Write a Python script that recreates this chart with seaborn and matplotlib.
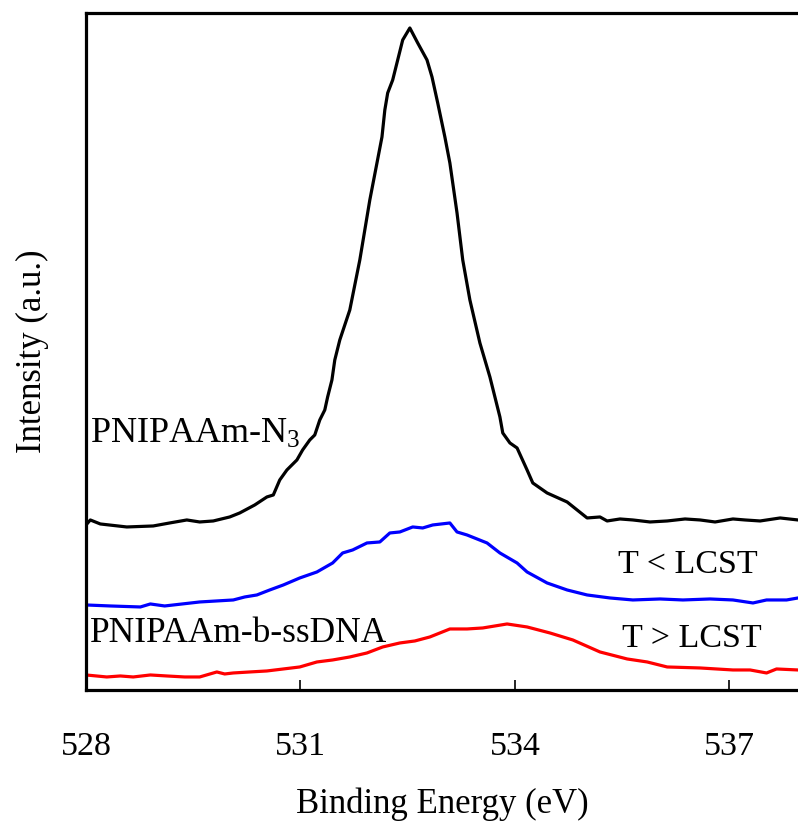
import pandas as pd
import matplotlib
matplotlib.use("Agg")
import matplotlib.pyplot as plt
import seaborn as sns

# XPS O1s spectra, intensity in arbitrary units (curves offset vertically)
x_n3 = [528.00, 528.06, 528.20, 528.57, 528.94, 529.17, 529.41, 529.59, 529.78, 530.01,
        530.15, 530.36, 530.53, 530.62, 530.71, 530.81, 530.95, 531.03, 531.13, 531.20,
        531.27, 531.34, 531.38, 531.44, 531.48, 531.55, 531.69, 531.83, 531.97, 532.07,
        532.14, 532.18, 532.22, 532.29, 532.36, 532.43, 532.53, 532.64, 532.77, 532.84,
        532.92, 533.02, 533.09, 533.19, 533.27, 533.37, 533.51, 533.65, 533.79, 533.83,
        533.93, 534.03, 534.17, 534.25, 534.45, 534.73, 534.87, 535.01, 535.19, 535.29,
        535.47, 535.65, 535.89, 536.13, 536.38, 536.59, 536.80, 537.05, 537.22, 537.43,
        537.71, 537.96]
y_n3 = [165, 170, 166, 163, 164, 167, 170, 168, 169, 173,
        177, 185, 193, 195, 210, 220, 230, 240, 250, 255,
        270, 280, 293, 310, 330, 350, 380, 430, 490, 527,
        553, 580, 597, 610, 630, 650, 662, 647, 630, 613,
        587, 553, 527, 477, 430, 390, 347, 313, 273, 257,
        247, 242, 220, 207, 197, 188, 180, 172, 173, 169,
        171, 170, 168, 169, 171, 170, 168, 171, 170, 169,
        172, 170]

x_low = [528.00, 528.34, 528.76, 528.90, 529.10, 529.59, 530.06, 530.22, 530.39, 530.57,
         530.76, 530.99, 531.23, 531.45, 531.59, 531.73, 531.93, 532.11, 532.25, 532.39,
         532.57, 532.71, 532.85, 533.09, 533.19, 533.33, 533.61, 533.79, 534.03, 534.17,
         534.45, 534.73, 535.01, 535.33, 535.65, 536.03, 536.35, 536.73, 537.05, 537.33,
         537.52, 537.80, 537.96]
y_low = [85, 84, 83, 86, 84, 88, 90, 93, 95, 100,
         105, 112, 118, 127, 137, 140, 147, 148, 157, 158,
         163, 162, 165, 167, 158, 155, 147, 137, 127, 118,
         107, 100, 95, 92, 90, 91, 90, 91, 90, 87,
         90, 90, 92]

x_high = [528.00, 528.29, 528.48, 528.66, 528.90, 529.13, 529.38, 529.59, 529.83, 529.94,
          530.06, 530.29, 530.53, 530.76, 530.99, 531.23, 531.45, 531.69, 531.93, 532.15,
          532.39, 532.60, 532.81, 533.09, 533.33, 533.55, 533.89, 534.17, 534.49, 534.81,
          535.19, 535.57, 535.85, 536.13, 536.59, 537.05, 537.29, 537.52, 537.66, 537.96]
y_high = [15, 13, 14, 13, 15, 14, 13, 13, 18, 16,
          17, 18, 19, 21, 23, 28, 30, 33, 37, 43,
          47, 49, 53, 61, 61, 62, 66, 63, 57, 50,
          38, 31, 28, 23, 22, 20, 20, 17, 21, 20]

x_ticks = [528, 531, 534, 537]

df = pd.concat([
    pd.DataFrame({"BE": x_n3, "I": y_n3, "sample": "n3"}),
    pd.DataFrame({"BE": x_low, "I": y_low, "sample": "low"}),
    pd.DataFrame({"BE": x_high, "I": y_high, "sample": "high"}),
])

sns.set_style("white")
plt.rcParams["font.family"] = ["Liberation Serif", "DejaVu Serif"]
plt.rcParams["mathtext.fontset"] = "custom"
plt.rcParams["mathtext.rm"] = "Liberation Serif"
plt.rcParams["mathtext.it"] = "Liberation Serif:italic"
plt.rcParams["text.color"] = "black"
plt.rcParams["axes.labelcolor"] = "black"
plt.rcParams["xtick.color"] = "black"

fig = plt.figure(figsize=(7.98, 8.21), dpi=100)
ax = fig.add_axes([0.1078, 0.1596, 0.8922, 0.8246])

sns.lineplot(data=df, x="BE", y="I", hue="sample", estimator=None, sort=False,
             palette={"n3": "black", "low": "#0000ff", "high": "#ff0000"},
             linewidth=2.3, legend=False, ax=ax)

ax.set_xlim(528, 537.96)
ax.set_ylim(0, 677)
ax.set_xticks(x_ticks)
ax.set_xticklabels([str(t) for t in x_ticks])
ax.set_yticks([])
ax.tick_params(axis="x", direction="in", length=7, width=1.2, pad=30,
               labelsize=24.5, bottom=True)
for side in ["left", "bottom", "top"]:
    ax.spines[side].set_linewidth(2.3)
    ax.spines[side].set_color("black")
ax.spines["right"].set_visible(False)

ax.set_xlabel("Binding Energy (eV)", fontsize=25, labelpad=18)
ax.set_ylabel("Intensity (a.u.)", fontsize=25, labelpad=27)

ax.text(528.06, 247, r"PNIPAAm-N$_3$", fontsize=26, va="baseline")
ax.text(528.06, 48, "PNIPAAm-b-ssDNA", fontsize=25.5, va="baseline")
ax.text(535.44, 117, "T < LCST", fontsize=24.5, va="baseline")
ax.text(535.50, 43, "T > LCST", fontsize=24.5, va="baseline")

fig.savefig("out.png", dpi=100)
